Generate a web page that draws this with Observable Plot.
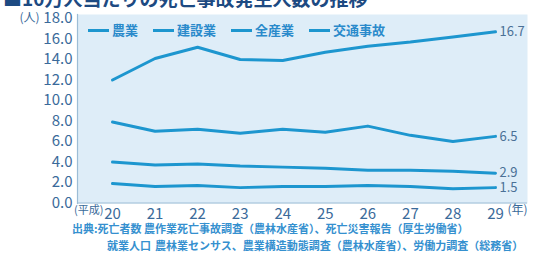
<!DOCTYPE html>
<html><head><meta charset="utf-8">
<script src="https://cdn.jsdelivr.net/npm/d3@7"></script>
<script src="https://cdn.jsdelivr.net/npm/@observablehq/plot@0.6"></script>
<style>
body{margin:0;background:#fff;width:535px;height:255px;overflow:hidden;position:relative;font-family:"Noto Sans CJK JP","Noto Sans",sans-serif;}
#chart{position:absolute;left:0;top:0;}
#title{position:absolute;left:3px;top:-12px;font-size:19px;line-height:19px;font-weight:bold;color:#1d4a82;white-space:nowrap;}
#legend{position:absolute;left:88px;top:22px;display:flex;align-items:center;font-size:13px;line-height:16px;font-weight:bold;color:#2a8acb;white-space:nowrap;}
#legend .item{display:flex;align-items:center;margin-right:15px;}
#legend .dash{display:inline-block;width:21px;height:3px;background:#1d96cf;margin-right:3px;}
.cap{position:absolute;font-size:11px;line-height:13px;font-weight:bold;color:#3590cf;white-space:nowrap;}
</style></head><body>
<div id="chart"></div>
<div id="title"></div>
<div id="legend"></div>
<div class="cap" id="c1a" style="left:72px;top:222px"></div>
<div class="cap" id="c1b" style="left:144px;top:222px"></div>
<div class="cap" id="c2a" style="left:107px;top:239px"></div>
<div class="cap" id="c2b" style="left:155px;top:239px"></div>
<script>
const titleText = "■10万人当たりの死亡事故発生人数の推移";
const years = [20, 21, 22, 23, 24, 25, 26, 27, 28, 29];
const seriesNames = ["農業", "建設業", "全産業", "交通事故"];
const agriculture   = [12.0, 14.1, 15.2, 14.0, 13.9, 14.7, 15.3, 15.7, 16.2, 16.7];
const construction  = [7.9, 7.0, 7.2, 6.8, 7.2, 6.9, 7.5, 6.6, 6.0, 6.5];
const allIndustries = [1.9, 1.6, 1.7, 1.5, 1.6, 1.6, 1.7, 1.6, 1.4, 1.5];
const traffic       = [4.0, 3.7, 3.8, 3.6, 3.5, 3.4, 3.2, 3.2, 3.1, 2.9];
const yTicks = [0, 2, 4, 6, 8, 10, 12, 14, 16, 18];
const yUnit = "(人)";
const xPrefix = "(平成)";
const xSuffix = "(年)";
const sourceLabel1 = "出典:死亡者数";
const sourceText1 = "農作業死亡事故調査（農林水産省）、死亡災害報告（厚生労働省）";
const sourceLabel2 = "就業人口";
const sourceText2 = "農林業センサス、農業構造動態調査（農林水産省）、労働力調査（総務省）";

const seriesValues = [agriculture, construction, allIndustries, traffic];
const rows = seriesNames.flatMap((name, i) => years.map((yr, j) => ({series: name, year: yr, value: seriesValues[i][j]})));
const lastRows = seriesNames.map((name, i) => ({series: name, year: years[years.length - 1], value: seriesValues[i][years.length - 1]}));

const lineColor = "#1d96cf";
const tickColor = "#3a6a9a";

const plot = Plot.plot({
  width: 535, height: 220,
  marginLeft: 77, marginRight: 8, marginTop: 14, marginBottom: 17,
  style: {fontFamily: '"Noto Sans CJK JP","Noto Sans",sans-serif', background: "transparent", overflow: "visible"},
  x: {domain: [20, 29], range: [112, 495], axis: null},
  y: {domain: [0, 18], range: [202.5, 18], axis: null},
  marks: [
    Plot.frame({fill: "#deedf8", stroke: null}),
    Plot.ruleY([0], {stroke: "#9dbdd6", strokeWidth: 1.2}),
    Plot.frame({anchor: "left", stroke: "#9dbdd6", strokeWidth: 1.2}),
    Plot.axisY(yTicks, {label: null, tickSize: 0, tickPadding: 5, tickFormat: d => d.toFixed(1), fontSize: 15, fill: tickColor}),
    Plot.axisX(years, {label: null, tickSize: 0, tickPadding: 5, tickFormat: d => String(d), fontSize: 15, fill: tickColor}),
    Plot.text([18], {y: d => d, frameAnchor: "left", dx: -38, textAnchor: "end", text: () => yUnit, fontSize: 12, fill: tickColor}),
    Plot.text([years[0]], {x: d => d, frameAnchor: "bottom", dy: 10, dx: -9, textAnchor: "end", text: () => xPrefix, fontSize: 11, fill: tickColor}),
    Plot.text([years[years.length - 1]], {x: d => d, frameAnchor: "bottom", dy: 10, dx: 12, textAnchor: "start", text: () => xSuffix, fontSize: 12, fill: tickColor}),
    Plot.line(rows, {x: "year", y: "value", z: "series", stroke: lineColor, strokeWidth: 3}),
    Plot.text(lastRows, {x: "year", y: "value", text: d => d.value.toFixed(1), textAnchor: "start", dx: 4, fontSize: 13, fill: "#4a7096"})
  ]
});
document.getElementById("chart").appendChild(plot);
document.getElementById("title").textContent = titleText;
const legend = document.getElementById("legend");
seriesNames.forEach(name => {
  const item = document.createElement("span");
  item.className = "item";
  const dash = document.createElement("span");
  dash.className = "dash";
  item.appendChild(dash);
  item.appendChild(document.createTextNode(name));
  legend.appendChild(item);
});
document.getElementById("c1a").textContent = sourceLabel1;
document.getElementById("c1b").textContent = sourceText1;
document.getElementById("c2a").textContent = sourceLabel2;
document.getElementById("c2b").textContent = sourceText2;
</script>
</body></html>
